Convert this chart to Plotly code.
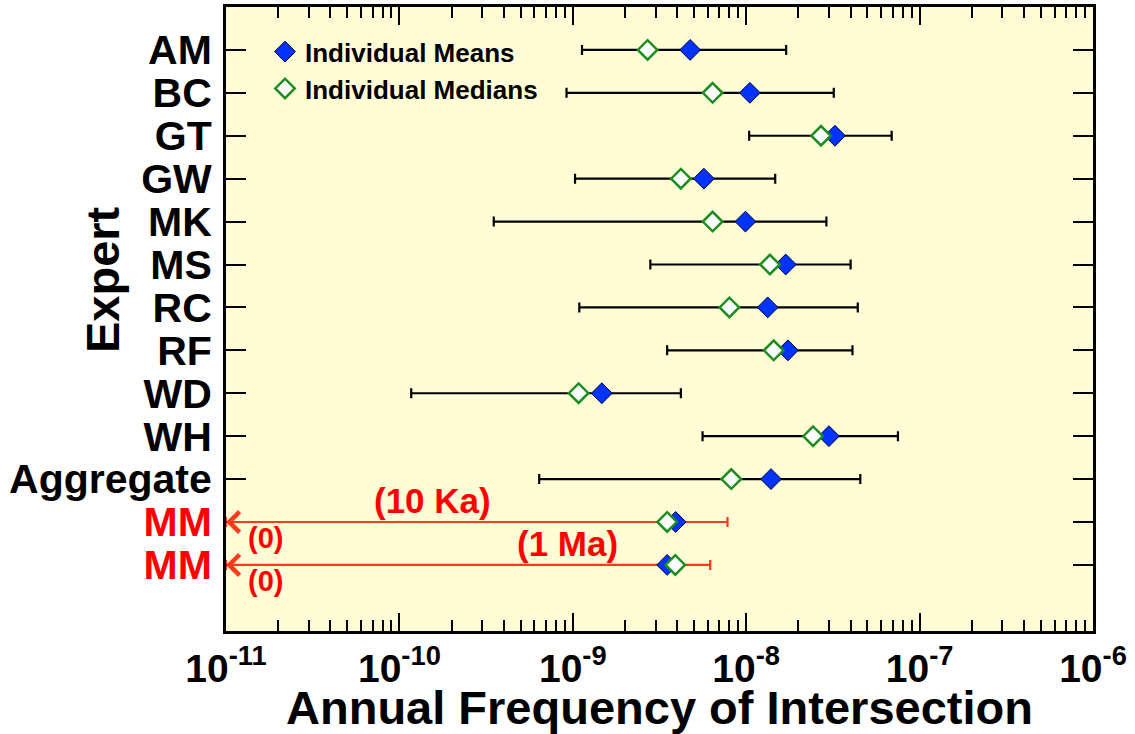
import plotly.graph_objects as go
import math

# ---------------- data ----------------
experts = ['AM', 'BC', 'GT', 'GW', 'MK', 'MS', 'RC', 'RF', 'WD', 'WH', 'Aggregate']
means   = [4.75e-9, 1.05e-8, 3.25e-8, 5.7e-9, 9.9e-9, 1.69e-8, 1.33e-8, 1.74e-8, 1.47e-9, 3.0e-8, 1.39e-8]
medians = [2.7e-9, 6.4e-9, 2.7e-8, 4.2e-9, 6.4e-9, 1.37e-8, 8.0e-9, 1.44e-8, 1.08e-9, 2.43e-8, 8.2e-9]
lows    = [1.13e-9, 9.2e-10, 1.04e-8, 1.03e-9, 3.5e-10, 2.8e-9, 1.09e-9, 3.5e-9, 1.17e-10, 5.6e-9, 6.4e-10]
highs   = [1.7e-8, 3.2e-8, 6.9e-8, 1.47e-8, 2.9e-8, 4.0e-8, 4.4e-8, 4.1e-8, 4.2e-9, 7.5e-8, 4.55e-8]

mm_labels  = ['MM', 'MM']
mm_periods = ['(10 Ka)', '(1 Ma)']
mm_means   = [3.92e-9, 3.5e-9]
mm_medians = [3.5e-9, 3.9e-9]
mm_lows    = [0.0, 0.0]
mm_highs   = [7.8e-9, 6.2e-9]

x_tick_vals = [1e-11, 1e-10, 1e-9, 1e-8, 1e-7, 1e-6]
x_tick_text = ['10<sup>-11</sup>', '10<sup>-10</sup>', '10<sup>-9</sup>',
               '10<sup>-8</sup>', '10<sup>-7</sup>', '10<sup>-6</sup>']

# ---------------- styling ----------------
BLUE = '#0033FF'
GREEN = '#1E8C1E'
RED = '#FF0000'
RED_LINE = '#FF3A1A'
BG = '#FFFCD6'
FONT = 'Liberation Sans, Arial, sans-serif'
X_MIN, X_MAX = 1e-11, 1e-6

n_exp = len(experts)
y_exp = list(range(n_exp))
y_mm = [n_exp + i for i in range(len(mm_labels))]

fig = go.Figure()

# black error bars for experts
fig.add_trace(go.Scatter(
    x=means, y=y_exp, mode='markers',
    marker=dict(size=1, color='rgba(0,0,0,0)'),
    error_x=dict(type='data', symmetric=False,
                 array=[h - m for h, m in zip(highs, means)],
                 arrayminus=[m - l for m, l in zip(means, lows)],
                 color='black', thickness=2.2, width=5),
    showlegend=False, hoverinfo='skip'))

# red error bars for MM (lower bound 0 -> drawn to axis edge)
mm_lo_plot = [max(l, X_MIN) for l in mm_lows]
fig.add_trace(go.Scatter(
    x=mm_means, y=y_mm, mode='markers',
    marker=dict(size=1, color='rgba(0,0,0,0)'),
    error_x=dict(type='data', symmetric=False,
                 array=[h - m for h, m in zip(mm_highs, mm_means)],
                 arrayminus=[m - l for m, l in zip(mm_means, mm_lo_plot)],
                 color=RED_LINE, thickness=2.2, width=5),
    showlegend=False, hoverinfo='skip'))

# means
fig.add_trace(go.Scatter(
    x=means + mm_means, y=y_exp + y_mm, mode='markers',
    name='Individual Means', legendrank=1,
    marker=dict(symbol='diamond', size=16, color=BLUE,
                line=dict(color='#000033', width=1)),
    hoverinfo='skip'))

# medians
fig.add_trace(go.Scatter(
    x=medians + mm_medians, y=y_exp + y_mm, mode='markers',
    name='Individual Medians', legendrank=2,
    marker=dict(symbol='diamond', size=15, color='white',
                line=dict(color=GREEN, width=2.5)),
    hoverinfo='skip'))

# arrows at the left end of MM lines
annotations = []
for yv in y_mm:
    annotations.append(dict(x=math.log10(X_MIN), y=yv, xref='x', yref='y',
                            ax=24, ay=0, text='', showarrow=True,
                            arrowhead=4, arrowsize=2, arrowwidth=2,
                            arrowcolor=RED_LINE))
# (0) labels
for yv in y_mm:
    annotations.append(dict(x=-10.77, y=yv + 0.38, xref='x', yref='y',
                            text='(0)', showarrow=False,
                            font=dict(family=FONT, size=29, color=RED, weight='bold')))
# period labels
period_pos = [(-9.81, y_mm[0] - 0.5), (-9.03, y_mm[1] - 0.5)]
for (px, py), txt in zip(period_pos, mm_periods):
    annotations.append(dict(x=px, y=py, xref='x', yref='y', text=txt,
                            showarrow=False,
                            font=dict(family=FONT, size=35, color=RED, weight='bold')))
# y-axis title
annotations.append(dict(x=-0.143, y=0.5625, xref='paper', yref='paper',
                        xanchor='center', yanchor='middle',
                        text='Expert', textangle=-90, showarrow=False,
                        font=dict(family=FONT, size=47, color='black', weight='bold')))

y_tick_text = experts + ['<span style="color:%s">%s</span>' % (RED, l) for l in mm_labels]

minor_vals = [m * 10 ** e for e in range(-11, -6) for m in range(2, 10)]

fig.update_layout(
    width=1135, height=734,
    margin=dict(l=226, r=42, t=7, b=103),
    paper_bgcolor='white', plot_bgcolor=BG,
    font=dict(family=FONT, color='black'),
    showlegend=True,
    legend=dict(x=0.045, y=0.966, xanchor='left', yanchor='top',
                bgcolor='rgba(0,0,0,0)', itemwidth=30,
                font=dict(family=FONT, size=26, color='black', weight='bold'),
                tracegroupgap=0),
    annotations=annotations,
    xaxis=dict(
        type='log', range=[math.log10(X_MIN), math.log10(X_MAX)],
        tickmode='array', tickvals=x_tick_vals, ticktext=x_tick_text,
        ticks='inside', ticklen=18, tickwidth=2, tickcolor='black',
        minor=dict(tickmode='array', tickvals=minor_vals, ticks='inside',
                   ticklen=11, tickwidth=2, tickcolor='black', showgrid=False),
        showline=True, linewidth=3, linecolor='black', mirror='allticks',
        showgrid=False, zeroline=False, automargin=False,
        tickfont=dict(family=FONT, size=39, color='black', weight='bold'),
        ticklabelstandoff=1,
        title=dict(text='Annual Frequency of Intersection', standoff=13,
                   font=dict(family=FONT, size=47, color='black', weight='bold')),
    ),
    yaxis=dict(
        range=[13.54, -1.0], tickmode='array', tickvals=y_exp + y_mm,
        ticktext=y_tick_text,
        ticks='inside', ticklen=20, tickwidth=2, tickcolor='black',
        showline=True, linewidth=3, linecolor='black', mirror='allticks',
        showgrid=False, zeroline=False, automargin=False,
        tickfont=dict(family=FONT, size=41, color='black', weight='bold'),
        ticklabelstandoff=3,
    ),
)

fig.write_html('out.html')
